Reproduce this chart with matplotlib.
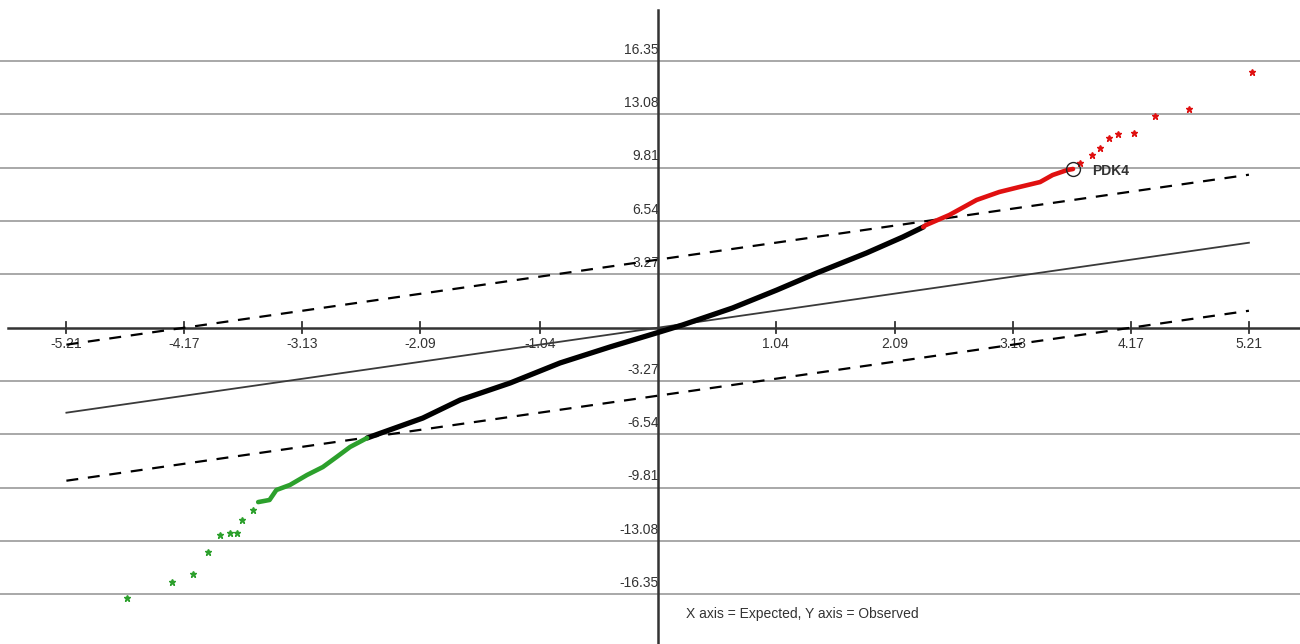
import matplotlib
matplotlib.use("Agg")
import matplotlib.pyplot as plt

plt.rcParams['font.family'] = ['Liberation Sans', 'DejaVu Sans']
plt.rcParams['lines.scale_dashes'] = False

# tick values / labels
x_ticks = [-5.21, -4.17, -3.13, -2.09, -1.04, 1.04, 2.09, 3.13, 4.17, 5.21]
y_ticks = [-16.35, -13.08, -9.81, -6.54, -3.27, 3.27, 6.54, 9.81, 13.08, 16.35]

# reference line y = x and the cut-off band (delta)
ref_x = [-5.21, 5.21]
delta = 4.17

# genes inside the band (expected, observed)
mid_x = [-2.56, -2.07, -1.74, -1.30, -0.86, -0.42, -0.01, 0.22, 0.66, 1.05, 1.40, 1.84, 2.16, 2.34]
mid_y = [-6.76, -5.54, -4.43, -3.39, -2.16, -1.18, -0.32, 0.17, 1.21, 2.31, 3.35, 4.58, 5.56, 6.17]

# significant up-regulated genes
up_x = [2.34, 2.36, 2.57, 2.81, 3.01, 3.19, 3.37, 3.48, 3.61, 3.66]
up_y = [6.17, 6.28, 6.91, 7.83, 8.32, 8.63, 8.93, 9.36, 9.67, 9.73]
up_sparse_x = [3.72, 3.83, 3.90, 3.98, 4.06, 4.20, 4.38, 4.68, 5.24]
up_sparse_y = [10.10, 10.59, 11.02, 11.63, 11.88, 11.94, 12.98, 13.41, 15.68]

# significant down-regulated genes
down_x = [-2.56, -2.71, -2.83, -2.95, -3.09, -3.24, -3.36, -3.42, -3.52]
down_y = [-6.76, -7.31, -7.93, -8.54, -9.03, -9.64, -9.95, -10.56, -10.69]
down_sparse_x = [-3.57, -3.66, -3.71, -3.77, -3.86, -3.96, -4.09, -4.28, -4.68]
down_sparse_y = [-11.18, -11.79, -12.59, -12.59, -12.71, -13.75, -15.10, -15.59, -16.57]

# labelled gene
gene_name = 'PDK4'
gene_x, gene_y = 3.66, 9.73

fig = plt.figure(figsize=(13, 6.44), dpi=100)
ax = fig.add_axes([0, 0, 1, 1])
ax.set_xlim(-5.795, 5.66)
ax.set_ylim(-19.39, 20.09)
ax.axis('off')

grid_c = '#9a9a9a'
axis_c = '#333333'
text_c = '#333333'

# horizontal grid
for yv in y_ticks:
    ax.axhline(yv, color=grid_c, lw=1.2, zorder=1)

# axes through the origin
ax.plot([-5.725, 5.66], [0, 0], color=axis_c, lw=1.8, zorder=2)
ax.plot([0, 0], [-19.39, 19.48], color=axis_c, lw=1.8, zorder=2)

# x tick marks and labels
for xv in x_ticks:
    ax.plot([xv, xv], [-0.35, 0.35], color=axis_c, lw=1.3, zorder=2)
    ax.annotate(f'{xv:.2f}', (xv, 0), xytext=(0, -6.5), textcoords='offset points',
                ha='center', va='top', fontsize=10, color=text_c, zorder=2)

# y tick labels sit just above their grid line
for yv in y_ticks:
    ax.annotate(f'{yv:.2f}', (0, yv), xytext=(1, 3.2), textcoords='offset points',
                ha='right', va='bottom', fontsize=10, color=text_c, zorder=2)

# y = x and the delta band
ax.plot(ref_x, ref_x, color='#3a3a3a', lw=1.3, zorder=3)
ax.plot(ref_x, [v + delta for v in ref_x], color='black', lw=1.6,
        dashes=(8.6, 7.0), zorder=3)
ax.plot(ref_x, [v - delta for v in ref_x], color='black', lw=1.6,
        dashes=(8.6, 7.0), zorder=3)

# observed vs expected
ax.plot(mid_x, mid_y, color='black', lw=3.8, solid_capstyle='round', zorder=4)
ax.plot(up_x, up_y, color='#e01010', lw=3.3, solid_capstyle='round', zorder=4)
ax.plot(up_sparse_x, up_sparse_y, ls='none', marker='*', ms=4.8,
        color='#e01010', zorder=4)
ax.plot(down_x, down_y, color='#2ca02c', lw=3.3, solid_capstyle='round', zorder=4)
ax.plot(down_sparse_x, down_sparse_y, ls='none', marker='*', ms=4.8,
        color='#2ca02c', zorder=4)

# highlighted gene
ax.plot(gene_x, gene_y, marker='o', ms=10, mfc='none', mec='#222222', mew=1.0, zorder=5)
ax.annotate(gene_name, (gene_x, gene_y), xytext=(14, -1.5), textcoords='offset points',
            ha='left', va='center', fontsize=10, fontweight='bold', color='#333333')

ax.text(0.25, -17.55, 'X axis = Expected, Y axis = Observed', ha='left', va='center',
        fontsize=10, color=text_c)

fig.savefig('out.png', dpi=100)
